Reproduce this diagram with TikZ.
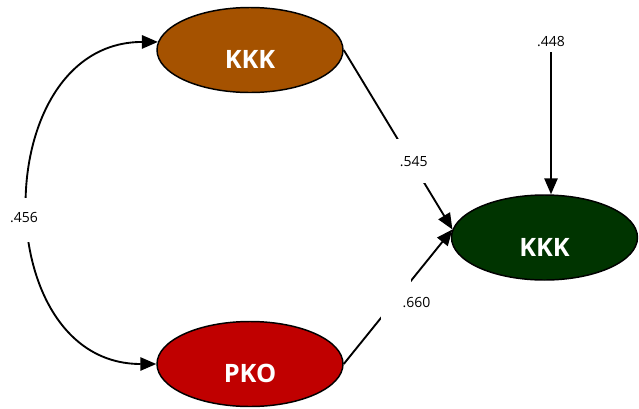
\documentclass[tikz,border=0pt]{standalone}
\usepackage{fontspec}
\setmainfont{Open Sans}
\usetikzlibrary{shapes.geometric,arrows.meta}
\definecolor{kkkbrown}{RGB}{165,82,0}
\definecolor{pkored}{RGB}{192,0,0}
\definecolor{kkkgreen}{RGB}{0,52,0}

\begin{document}
\begin{tikzpicture}[x=0.75pt,y=-0.75pt,>={Triangle[length=12pt,width=10pt]},
  latent/.style={ellipse, draw=black, line width=1.1pt, minimum width=139.5pt, minimum height=63.75pt,
    text=white, font=\fontsize{19}{21}\selectfont\bfseries, text height=28pt, text depth=0pt},
  effect/.style={line width=1.4pt, ->},
  gap/.style={fill=white, inner sep=0pt, minimum width=22.5pt, minimum height=33pt},
  coef/.style={font=\fontsize{10.5}{12}\selectfont, inner sep=0pt}]
\useasboundingbox (0,0) rectangle (639,408);
% latent variables
\node [latent, fill=kkkbrown] (kkk) at (250,50) {KKK};
\node [latent, fill=pkored] (pko) at (250,364) {PKO};
\node [latent, fill=kkkgreen] (kkkout) at (544.5,237.5) {KKK};
% error term
\node [coef] (err) at (551,42) {.448};
\draw [effect, shorten <=3.75pt] (err.south) -- (err.south |- kkkout.north);
% correlation
\draw [line width=1.4pt, <->] (kkk.175) to[out=180,in=180,looseness=1.35]
  node [gap, pos=0.535, label={[coef, xshift=-4.5pt, yshift=2pt]center:.456}] {} (pko.west);
% paths
\draw [effect] (kkk.east) -- node [gap, pos=0.62, label={[coef, xshift=2pt]center:.545}] {} (kkkout.175);
\draw [effect] (pko.east) -- node [gap, pos=0.485, label={[coef, xshift=15pt, yshift=-3pt]center:.660}] {} (kkkout.175);
\end{tikzpicture}
\end{document}
